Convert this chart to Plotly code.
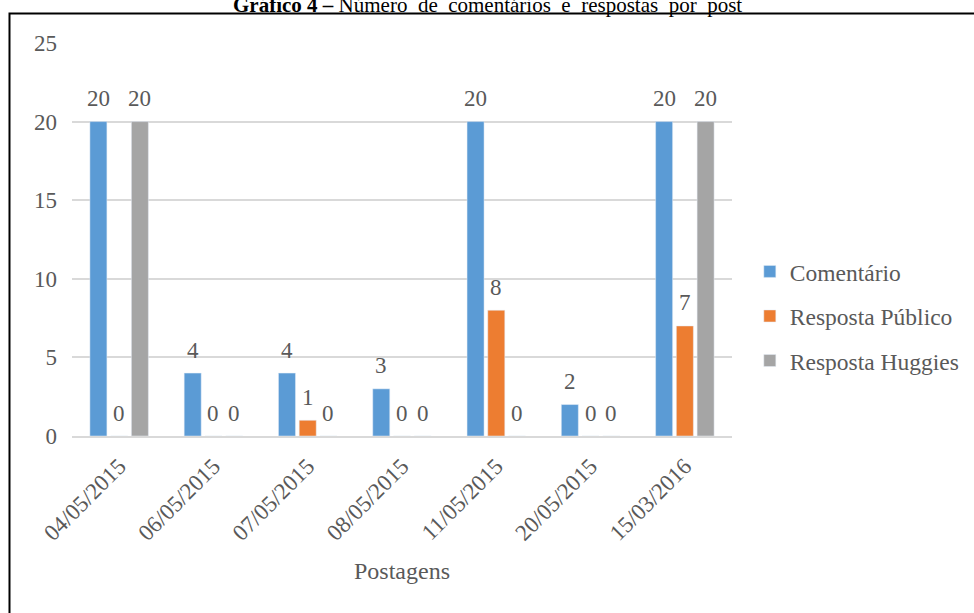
import plotly.graph_objects as go

# Posts (x categories) and counts per series
postagens = ["04/05/2015", "06/05/2015", "07/05/2015", "08/05/2015",
             "11/05/2015", "20/05/2015", "15/03/2016"]
comentario = [20, 4, 4, 3, 20, 2, 20]
resposta_publico = [0, 0, 1, 0, 8, 0, 7]
resposta_huggies = [20, 0, 0, 0, 0, 0, 20]
y_ticks = [0, 5, 10, 15, 20, 25]

series = [
    ("Comentário", comentario, "#5b9bd5"),
    ("Resposta Público", resposta_publico, "#ed7d31"),
    ("Resposta Huggies", resposta_huggies, "#a5a5a5"),
]

FONT = "Liberation Serif"
TXT = "#595959"

fig = go.Figure()
annotations = []
slot_px = 20.75  # horizontal distance between neighbouring bars in a group
for i, (name, vals, color) in enumerate(series):
    fig.add_trace(go.Bar(
        x=postagens, y=vals, name=name, marker_color=color,
        legendgroup=name,
    ))
    # value labels above each bar
    for cat, v in zip(postagens, vals):
        annotations.append(dict(
            x=cat, y=v, xref="x", yref="y", text=str(v), showarrow=False,
            xshift=(i - 1) * slot_px, yshift=23, yanchor="middle",
            font=dict(family=FONT, size=23, color=TXT),
        ))

# x-axis title
annotations.append(dict(
    x=0.5, y=-0.3435, xref="paper", yref="paper", text="Postagens",
    showarrow=False, yanchor="middle",
    font=dict(family=FONT, size=24, color=TXT),
))
# chart heading (partly above the page edge)
annotations.append(dict(
    x=0.630, y=1.097, xref="paper", yref="paper",
    text="<b>Gráfico 4 –</b> Número  de  comentários  e  respostas  por  post",
    showarrow=False, yanchor="middle", xanchor="center",
    font=dict(family=FONT, size=21, color="#000000"),
))

fig.update_layout(
    width=974, height=613,
    margin=dict(l=72, r=242, t=43, b=177, autoexpand=False),
    paper_bgcolor="white", plot_bgcolor="white",
    barmode="group", bargap=0.34, bargroupgap=0.18,
    font=dict(family=FONT, size=23, color=TXT),
    showlegend=True,
    legend=dict(
        x=1.027, y=0.305, xanchor="left", yanchor="middle",
        font=dict(family=FONT, size=23.5, color=TXT),
        traceorder="grouped", tracegroupgap=11,
        bgcolor="rgba(0,0,0,0)",
    ),
    annotations=annotations,
    shapes=[dict(
        type="rect", xref="paper", yref="paper",
        x0=-0.0947, x1=1.6, y0=-0.6, y1=1.0751,
        line=dict(color="black", width=2), fillcolor="rgba(0,0,0,0)",
        layer="above",
    )],
)

fig.update_xaxes(
    type="category", tickangle=-45, showgrid=False,
    showline=True, linecolor="#d9d9d9", linewidth=1.5,
    tickfont=dict(family=FONT, size=23, color=TXT),
    ticklabelstandoff=6,
)
fig.update_yaxes(
    range=[0, 25], tickvals=y_ticks, showgrid=True,
    gridcolor="#d9d9d9", gridwidth=1.5, zeroline=False,
    showline=False,
    tickfont=dict(family=FONT, size=23, color=TXT),
    ticklabelstandoff=14,
)

fig.write_html("out.html")
